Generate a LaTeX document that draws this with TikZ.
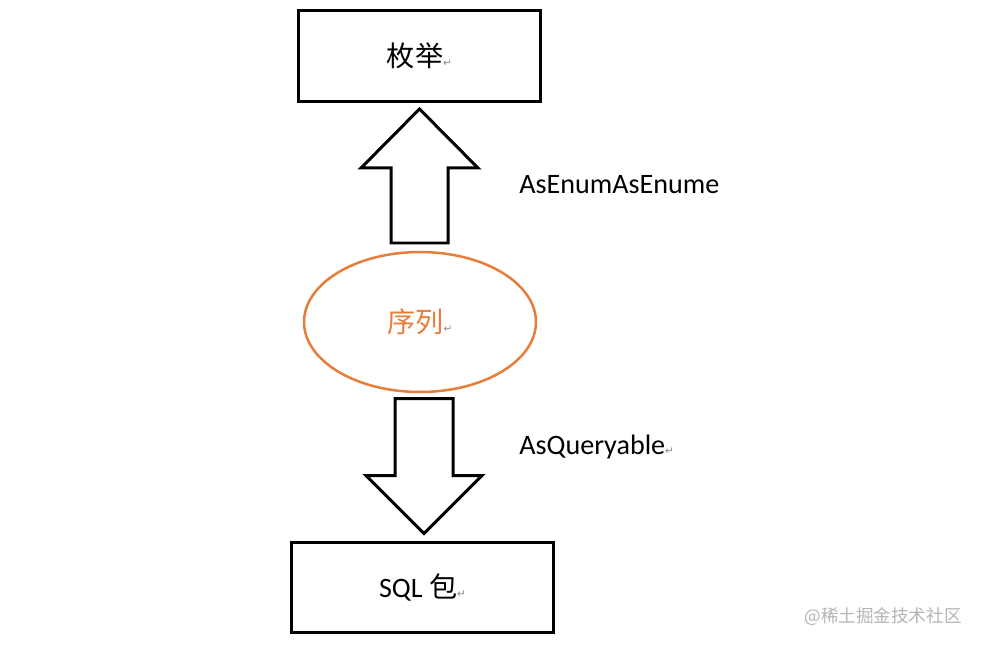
\documentclass[tikz,border=0pt]{standalone}
\usepackage{fontspec}
\setmainfont{Carlito}
\newfontfamily\cjkfont{Noto Sans CJK SC}
\newfontfamily\symfont{DejaVu Sans}
\usetikzlibrary{calc,shapes.geometric}
\definecolor{ink}{HTML}{000000}
\definecolor{seqorange}{HTML}{E67E3A}
\definecolor{markgray}{HTML}{8C8C8C}
\definecolor{wmgray}{HTML}{B4B4B4}
\newcommand{\retmark}{{\symfont\fontsize{6}{6}\selectfont\textcolor{markgray}{↵}}}

\begin{document}
\begin{tikzpicture}[x=0.02cm,y=-0.02cm,font=\fontsize{16}{19}\selectfont,text=ink,
  box/.style={draw=ink,line width=0.06cm,minimum height=1.82cm,inner sep=0pt},
  blockarrow/.style={draw=ink,line width=0.06cm,fill=white,line join=miter}]
  \useasboundingbox (0,0) rectangle (981,647);
  \node[box,minimum width=4.86cm] (enum) at (419.5,56) {\cjkfont 枚举\retmark};
  \node[ellipse,draw=seqorange,line width=0.05cm,minimum width=4.64cm,minimum height=2.8cm,text=seqorange] (seq) at (420,322) {\cjkfont 序列\retmark};
  \node[box,minimum width=5.26cm,minimum height=1.8cm] (sql) at (422.5,587) {SQL {\cjkfont 包}\retmark};
  % up: sequence -> enum
  \coordinate (upTip) at ($(enum.south)+(0,6)$);
  \draw[blockarrow] (upTip) -- ++(58.5,59) -- ++(-30,0) -- ++(0,75) -- ++(-57,0) -- ++(0,-75) -- ++(-30,0) -- cycle;
  % down: sequence -> sql
  \coordinate (downTip) at ($(sql.north)+(1.5,-7)$);
  \draw[blockarrow] (downTip) -- ++(58,-58) -- ++(-29,0) -- ++(0,-77) -- ++(-58,0) -- ++(0,77) -- ++(-29,0) -- cycle;
  \node[anchor=west,inner sep=0pt] (lblUp) at (519,185) {AsEnumAsEnume};
  \node[anchor=west,inner sep=0pt] (lblDown) at (519,447) {AsQueryable\retmark};
  \node[anchor=east,inner sep=0pt,text=wmgray,font=\cjkfont\fontsize{10}{12}\selectfont] (mark) at (962,617) {@稀土掘金技术社区};
\end{tikzpicture}
\end{document}
